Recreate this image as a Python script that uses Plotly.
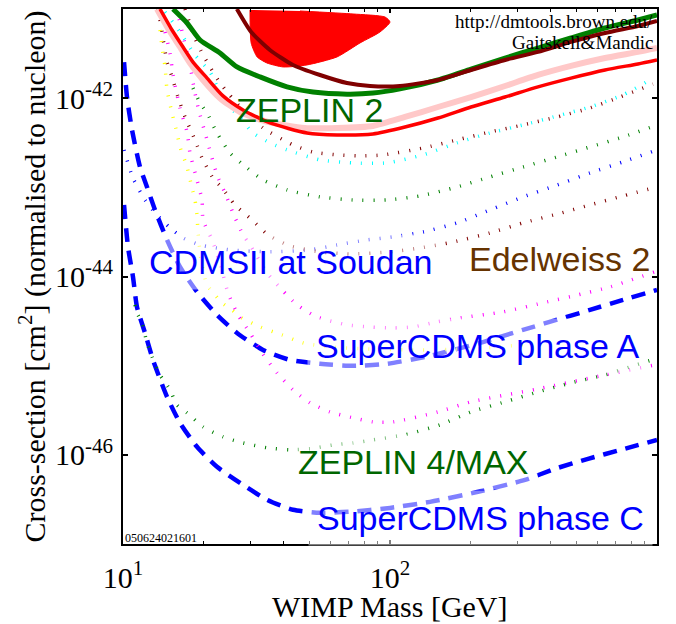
import plotly.graph_objects as go

# ---------------- data (WIMP mass in GeV, cross-section in cm^2) ----------------
dama_mass = [29.9, 30.2, 31.8, 34.6, 39.8, 48.9, 63.3, 77.2, 91.7, 100.0, 95.8, 72.7, 46.0]
dama_xs = [9.75e-42, 4.16e-42, 2.90e-42, 2.48e-42, 2.24e-42, 2.36e-42, 2.90e-42, 4.16e-42,
           5.52e-42, 7.15e-42, 8.13e-42, 8.79e-42, 9.50e-42]

maroon_mass = [26.7, 30.2, 35.5, 43.3, 54.7, 69.0, 84.2, 109.0, 151.3, 201.1, 269.6, 358.4, 476.4, 638.6, 848.9, 1000]
maroon_xs = [1.0e-41, 5.52e-42, 3.47e-42, 2.36e-42, 1.82e-42, 1.48e-42, 1.37e-42, 1.37e-42, 1.60e-42,
             2.07e-42, 2.68e-42, 3.30e-42, 4.27e-42, 5.38e-42, 6.45e-42, 7.34e-42]

green_mass = [15.39, 17.37, 19.43, 23.08, 26.73, 32.60, 41.14, 51.48, 69.02, 86.38, 109.0, 151.3, 201.1,
              269.6, 358.4, 476.4, 638.6, 848.9, 1000]
green_xs = [1.0e-41, 6.97e-42, 4.49e-42, 3.21e-42, 2.24e-42, 1.73e-42, 1.34e-42, 1.17e-42, 1.11e-42,
            1.14e-42, 1.27e-42, 1.60e-42, 2.12e-42, 2.82e-42, 3.65e-42, 4.73e-42, 6.12e-42, 7.53e-42, 8.57e-42]

red_mass = [13.76, 15.26, 16.78, 18.29, 20.64, 23.69, 28.15, 35.53, 48.89, 63.33, 86.38, 113.8, 151.3,
            201.1, 269.6, 358.4, 476.4, 638.6, 848.9, 1000]
red_xs = [1.0e-41, 5.81e-42, 3.75e-42, 2.54e-42, 1.68e-42, 1.06e-42, 7.38e-43, 5.27e-43, 4.07e-43,
          3.87e-43, 3.97e-43, 4.75e-43, 6.00e-43, 7.96e-43, 1.03e-42, 1.34e-42, 1.68e-42, 2.07e-42,
          2.42e-42, 2.68e-42]

pink_mass = [13.41, 14.87, 16.35, 17.82, 19.94, 23.08, 27.43, 34.93, 48.05, 63.33, 86.38, 113.8, 151.3,
             201.1, 269.6, 358.4, 476.4, 638.6, 848.9, 1000]
pink_xs = [1.0e-41, 5.81e-42, 3.75e-42, 2.48e-42, 1.60e-42, 1.00e-42, 7.00e-43, 5.41e-43, 4.63e-43,
           4.63e-43, 4.88e-43, 6.15e-43, 7.96e-43, 1.03e-42, 1.37e-42, 1.82e-42, 2.30e-42, 2.82e-42,
           3.30e-42, 3.65e-42]

cyan_mass = [14.37, 16.35, 18.60, 21.18, 23.69, 27.43, 30.69, 35.53, 41.14, 54.70, 72.68, 97.45, 132.9,
             178.2, 236.9, 314.8, 422.3, 561.2, 746.0, 941.6]
cyan_xs = [9.26e-42, 5.52e-42, 3.05e-42, 1.97e-42, 1.00e-42, 6.00e-43, 4.07e-43, 3.15e-43, 2.63e-43,
           2.03e-43, 1.88e-43, 1.88e-43, 2.31e-43, 3.15e-43, 4.07e-43, 5.01e-43, 6.31e-43, 7.96e-43,
           1.09e-42, 1.60e-42]

maroon_dot_mass = [17.07, 18.60, 19.94, 21.18, 22.69, 24.74, 28.15, 33.45, 43.33, 51.48, 63.33, 77.21,
                   94.15, 132.9, 178.2, 236.9, 314.8, 422.3, 561.2, 726.6, 966.0]
maroon_dot_xs = [1.0e-41, 4.73e-42, 3.05e-42, 2.24e-42, 1.60e-42, 1.14e-42, 7.38e-43, 4.63e-43, 2.99e-43,
                 2.49e-43, 2.31e-43, 2.25e-43, 2.31e-43, 2.76e-43, 3.40e-43, 4.18e-43, 5.01e-43,
                 6.15e-43, 7.76e-43, 1.03e-42, 1.44e-42]

green_dot_mass = [18.29, 19.43, 20.64, 22.49, 25.16, 29.14, 33.45, 41.14, 54.70, 72.68, 97.45, 129.6,
                  178.2, 236.9, 314.8, 422.3, 561.2, 746.0, 1000]
green_dot_xs = [1.30e-42, 8.83e-43, 6.82e-43, 4.07e-43, 2.43e-43, 1.65e-43, 1.21e-43, 9.35e-44, 7.81e-44,
                7.22e-44, 7.22e-44, 8.01e-44, 1.01e-43, 1.31e-43, 1.69e-43, 2.19e-43, 2.84e-43,
                3.67e-43, 5.01e-43]

blue_dot_mass = [10.09, 10.90, 12.09, 13.41, 15.00, 16.78, 19.43, 25.16, 35.53, 50.16, 63.33, 82.0,
                 102.6, 132.9, 178.2, 236.9, 314.8, 422.3, 561.2, 746.0, 1000]
blue_dot_xs = [2.63e-43, 1.27e-43, 7.22e-44, 4.90e-44, 3.51e-44, 2.71e-44, 2.26e-44, 1.99e-44, 1.89e-44,
               1.99e-44, 2.26e-44, 2.57e-44, 2.78e-44, 3.16e-44, 3.99e-44, 5.58e-44, 7.81e-44,
               1.06e-43, 1.45e-43, 1.93e-43, 2.63e-43]

edelweiss_mass = [13.52, 14.00, 14.62, 15.26, 16.07, 17.07, 18.60, 19.76, 21.73, 23.49, 26.27, 30.42,
                  34.93, 42.22, 54.70, 70.83, 100.0, 129.6, 172.2, 236.9, 314.8, 422.3, 561.2, 746.0, 1000]
edelweiss_xs = [1.0e-41, 5.52e-42, 2.54e-42, 1.73e-42, 1.03e-42, 6.15e-43, 3.40e-43, 2.14e-43, 1.27e-43,
                9.85e-44, 6.35e-44, 4.31e-44, 2.93e-44, 2.20e-44, 1.89e-44, 1.79e-44, 1.89e-44,
                2.09e-44, 2.44e-44, 3.08e-44, 3.99e-44, 5.01e-44, 6.35e-44, 8.01e-44, 1.01e-43]

yellow_mass = [13.76, 14.00, 14.37, 14.62, 15.26, 15.93, 16.35, 17.37, 18.13, 18.60, 18.93, 19.09, 19.60,
               20.64, 22.11, 23.49, 25.60, 27.91, 32.60, 39.41, 47.22, 59.61, 84.17, 129.6, 194.3,
               258.2, 334.5]
yellow_xs = [5.81e-42, 3.75e-42, 2.24e-42, 1.24e-42, 6.82e-43, 4.07e-43, 2.84e-43, 1.69e-43, 9.85e-44,
             7.22e-44, 4.90e-44, 3.16e-44, 1.53e-44, 8.05e-45, 6.22e-45, 5.06e-45, 4.22e-45, 3.43e-45,
             2.72e-45, 2.21e-45, 1.80e-45, 1.62e-45, 1.54e-45, 1.50e-45, 1.54e-45, 1.62e-45, 1.76e-45]

magenta_a_mass = [14.37, 15.00, 15.39, 16.35, 17.37, 17.82, 18.93, 19.76, 19.94, 21.54, 23.08, 24.74,
                  26.96, 29.91, 33.17, 37.75, 43.33, 50.16, 59.61, 72.68, 86.38, 102.6, 151.3, 201.1,
                  358.4, 638.6, 982.9]
magenta_a_xs = [5.52e-42, 3.21e-42, 1.82e-42, 7.76e-43, 4.18e-43, 2.43e-43, 1.21e-43, 7.22e-44, 4.31e-44,
                2.57e-44, 1.42e-44, 6.55e-45, 3.71e-45, 2.33e-45, 1.39e-45, 8.30e-46, 5.35e-46,
                3.83e-46, 3.03e-46, 2.60e-46, 2.34e-46, 2.34e-46, 3.03e-46, 3.93e-46, 5.49e-46,
                7.88e-46, 1.02e-45]

magenta_b_mass = [15.66, 16.07, 16.92, 17.82, 18.45, 19.09, 20.64, 22.49, 24.10, 25.82, 28.15, 29.91,
                  34.63, 39.41, 44.86, 53.29, 69.02, 84.17, 102.6, 122.0, 150.0, 183.0, 265.0, 387.3,
                  505.9, 666.8, 982.9]
magenta_b_xs = [1.0e-41, 8.57e-42, 4.49e-42, 2.36e-42, 1.30e-42, 7.96e-43, 3.40e-43, 1.38e-43, 8.66e-44,
                5.16e-44, 2.93e-44, 2.26e-44, 1.10e-44, 7.08e-45, 4.80e-45, 3.52e-45, 2.87e-45,
                2.72e-45, 2.65e-45, 2.72e-45, 3.10e-45, 3.43e-45, 4.01e-45, 5.19e-45, 6.22e-45,
                7.64e-45, 1.13e-44]

zeplin4_mass = [11.09, 11.28, 11.78, 12.30, 12.84, 13.76, 15.00, 15.93, 17.37, 19.94, 23.69, 28.15,
                34.63, 42.22, 50.16, 61.18, 72.68, 86.38, 113.8, 153.9, 201.1, 269.6, 358.4, 476.4,
                638.6, 792.4, 982.9]
zeplin4_xs = [4.80e-45, 3.91e-45, 3.02e-45, 1.80e-45, 1.26e-45, 7.88e-46, 5.35e-46, 3.63e-46, 2.96e-46,
              2.06e-46, 1.59e-46, 1.36e-46, 1.20e-46, 1.14e-46, 1.17e-46, 1.29e-46, 1.36e-46,
              1.47e-46, 1.68e-46, 2.17e-46, 3.03e-46, 3.93e-46, 5.08e-46, 6.41e-46, 7.88e-46,
              9.69e-46, 1.19e-45]

cdms2_mass = [10.09, 10.35, 10.81, 11.58, 12.30, 13.18, 14.62, 16.35, 18.93, 22.49, 26.73, 33.45, 42.22,
              54.70, 72.68, 97.45, 141.2, 217.3, 314.8, 561.2, 746.0, 1000]
cdms2_xs = [2.54e-42, 1.03e-42, 4.40e-43, 1.69e-43, 1.01e-43, 5.58e-44, 2.57e-44, 1.28e-44, 6.72e-45,
            3.71e-45, 2.33e-45, 1.50e-45, 1.16e-45, 1.05e-45, 9.95e-46, 1.05e-45, 1.29e-45, 1.80e-45,
            2.52e-45, 4.22e-45, 5.47e-45, 7.08e-45]

scdmsc_mass = [10.09, 10.44, 10.90, 11.28, 12.09, 12.95, 14.62, 16.35, 18.93, 22.49, 27.43, 34.63, 43.33,
               54.70, 70.83, 100.0, 141.2, 213.6, 320.3, 415.0, 551.6, 733.2, 1000]
scdmsc_xs = [6.35e-44, 2.15e-44, 9.90e-45, 4.56e-45, 2.33e-45, 1.16e-45, 4.47e-46, 2.28e-46, 1.23e-46,
             7.34e-47, 4.85e-47, 3.13e-47, 2.42e-47, 2.24e-47, 2.30e-47, 2.54e-47, 2.97e-47,
             3.85e-47, 5.24e-47, 6.97e-47, 9.02e-47, 1.14e-46, 1.47e-46]

x_major = [10, 100, 1000]
x_major_text = ["10<sup>1</sup>", "10<sup>2</sup>", "10<sup>3</sup>"]
x_minor = [20, 30, 40, 50, 60, 70, 80, 90, 200, 300, 400, 500, 600, 700, 800, 900]
y_tick_vals = [1e-46, 1e-44, 1e-42]
y_tick_text = ["10<sup>-46</sup>", "10<sup>-44</sup>", "10<sup>-42</sup>"]

# ---------------- figure ----------------
fig = go.Figure()

DOT = "1px,10px"
DASH = "14px,9px"


def curve(xv, yv, color, width, dash="solid"):
    fig.add_trace(go.Scatter(x=xv, y=yv, mode="lines",
                             line=dict(color=color, width=width, dash=dash, shape="spline", smoothing=0.6),
                             hoverinfo="skip", showlegend=False))


# CDMS curves
curve(blue_dot_mass, blue_dot_xs, "#0000FF", 3.5, DOT)
curve(scdmsc_mass, scdmsc_xs, "#0000FF", 4.5, DASH)
curve(cdms2_mass, cdms2_xs, "#0000FF", 4.5, DASH)

# projected (dotted) curves
curve(cyan_mass, cyan_xs, "#00FFFF", 3.5, DOT)
curve(maroon_dot_mass, maroon_dot_xs, "#800000", 3.5, DOT)
curve(green_dot_mass, green_dot_xs, "#008000", 3.5, DOT)
curve(edelweiss_mass, edelweiss_xs, "#800000", 3.5, DOT)
curve(yellow_mass, yellow_xs, "#FFFF00", 3.5, DOT)
curve(magenta_b_mass, magenta_b_xs, "#FF00FF", 3.5, DOT)
curve(magenta_a_mass, magenta_a_xs, "#FF00FF", 3.5, DOT)
curve(zeplin4_mass, zeplin4_xs, "#008000", 3.5, DOT)

# solid limit curves and DAMA region
curve(pink_mass, pink_xs, "#FFC8C8", 6)
curve(red_mass, red_xs, "#FF0000", 3.5)
curve(green_mass, green_xs, "#008000", 5)
fig.add_trace(go.Scatter(x=dama_mass, y=dama_xs, mode="lines", fill="toself", fillcolor="#FF0000",
                         line=dict(color="#FF0000", width=1, shape="spline", smoothing=0.6),
                         hoverinfo="skip", showlegend=False))
curve(maroon_mass, maroon_xs, "#800000", 4)

SANS = "Liberation Sans"
SERIF = "Liberation Serif"


def label(text, x, y, color, wash=False):
    kw = dict(bgcolor="rgba(255,255,255,0.5)", borderpad=8) if wash else {}
    fig.add_annotation(text=text, x=x, y=y, xref="paper", yref="paper", showarrow=False,
                       xanchor="center", yanchor="middle",
                       font=dict(family=SANS, size=34, color=color), **kw)


label("ZEPLIN 2", 0.350, 0.811, "#006600")
label("CDMSII at Soudan", 0.3137, 0.527, "#0000FF", True)
label("Edelweiss 2", 0.818, 0.533, "#663300")
label("SuperCDMS phase A", 0.663, 0.370, "#0000FF", True)
label("ZEPLIN 4/MAX", 0.544, 0.153, "#006600", True)
label("SuperCDMS phase C", 0.670, 0.0486, "#0000FF", True)

fig.add_annotation(text="http://dmtools.brown.edu/", x=0.618, y=(544 - 21) / 535, xref="paper", yref="paper",
                   showarrow=False, xanchor="left", yanchor="middle",
                   font=dict(family=SERIF, size=19, color="black"))
fig.add_annotation(text="Gaitskell&Mandic", x=0.7247, y=(544 - 43) / 535, xref="paper", yref="paper",
                   showarrow=False, xanchor="left", yanchor="middle",
                   font=dict(family=SERIF, size=19, color="black"))
fig.add_annotation(text="050624021601", x=0.0, y=0.011, xref="paper", yref="paper",
                   showarrow=False, xanchor="left", yanchor="middle",
                   font=dict(family=SERIF, size=12, color="black"))

fig.add_annotation(text="WIMP Mass [GeV]", x=0.5, y=(544 - 606) / 535, xref="paper", yref="paper",
                   showarrow=False, xanchor="center", yanchor="middle",
                   font=dict(family=SERIF, size=30, color="black"))
fig.add_annotation(text="Cross-section [cm<sup>2</sup>] (normalised to nucleon)", x=(33 - 123) / 534, y=0.5,
                   xref="paper", yref="paper", showarrow=False, textangle=-90,
                   xanchor="center", yanchor="middle",
                   font=dict(family=SERIF, size=30, color="black"))

fig.update_layout(
    width=676, height=624,
    margin=dict(l=123, r=19, t=9, b=80, autoexpand=False),
    paper_bgcolor="white", plot_bgcolor="white",
    showlegend=False,
    xaxis=dict(type="log", range=[1, 3], showgrid=False, zeroline=False,
               showline=True, linecolor="black", linewidth=2, mirror="ticks",
               tickmode="array", tickvals=x_major, ticktext=x_major_text,
               ticks="inside", ticklen=4, tickwidth=1.5, tickcolor="black",
               minor=dict(tickmode="array", tickvals=x_minor, ticks="inside", ticklen=3,
                          tickwidth=1.2, tickcolor="black", showgrid=False),
               tickfont=dict(family=SERIF, size=30, color="black"), ticklabelstandoff=6),
    yaxis=dict(type="log", range=[-47, -41], showgrid=False, zeroline=False,
               showline=True, linecolor="black", linewidth=2, mirror="ticks",
               tickmode="array", tickvals=y_tick_vals, ticktext=y_tick_text,
               ticks="inside", ticklen=5, tickwidth=1.5, tickcolor="black",
               tickfont=dict(family=SERIF, size=30, color="black"), ticklabelstandoff=2),
)

fig.write_html("out.html")
